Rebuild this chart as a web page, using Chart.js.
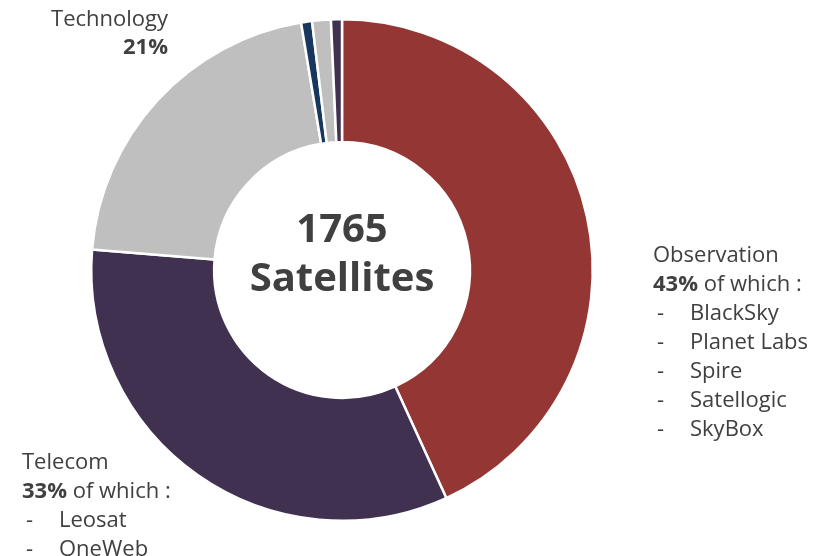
<!DOCTYPE html>
<html>
<head>
<meta charset="utf-8">
<script src="https://cdn.jsdelivr.net/npm/chart.js@4.4.1/dist/chart.umd.min.js"></script>
<style>
  html, body { margin: 0; padding: 0; background: #fff; }
  #wrap { width: 821px; height: 556px; position: relative; }
</style>
</head>
<body>
<div id="wrap"><canvas id="myChart"></canvas></div>
<script>
// satellite shares by mission type (percent)
const segments = ['Observation', 'Telecom', 'Technology', 'Other A', 'Other B', 'Other C'];
const shares = [43, 33, 21, 0.7, 1.2, 0.7];
const colors = ['#943634', '#403151', '#BFBFBF', '#17375E', '#BFBFBF', '#403151'];

const totalSats = '1765';
const centerWord = 'Satellites';

const observationOps = ['BlackSky', 'Planet Labs', 'Spire', 'Satellogic', 'SkyBox'];
const telecomOps = ['Leosat', 'OneWeb'];

const FONT = '"Open Sans", "Noto Sans", sans-serif';
const TEXT = '#404040';

// writes the center total and the side notes
const notes = {
    id: 'notes',
    afterDraw(chart) {
        const ctx = chart.ctx;
        const arc = chart.getDatasetMeta(0).data[0];
        ctx.save();
        ctx.fillStyle = TEXT;
        ctx.textBaseline = 'middle';

        // center
        ctx.textAlign = 'center';
        ctx.font = 'bold 40px ' + FONT;
        ctx.fillText(totalSats, arc.x, arc.y - 39);
        ctx.fillText(centerWord, arc.x, arc.y + 10);

        const lh = 29;
        ctx.font = '22px ' + FONT;

        // technology, top left
        ctx.textAlign = 'right';
        ctx.fillText('Technology', 168, 20);
        ctx.font = 'bold 22px ' + FONT;
        ctx.fillText(shares[2] + '%', 168, 48);

        // block with a bold share line and a dash list
        function block(x, y, title, pct, items) {
            ctx.textAlign = 'left';
            ctx.font = '22px ' + FONT;
            ctx.fillText(title, x, y);
            ctx.font = 'bold 22px ' + FONT;
            const p = pct + '%';
            ctx.fillText(p, x, y + lh);
            const w = ctx.measureText(p).width;
            ctx.font = '22px ' + FONT;
            ctx.fillText(' of which :', x + w, y + lh);
            items.forEach((it, i) => {
                const yy = y + lh * (i + 2);
                ctx.fillText('-', x + 4, yy);
                ctx.fillText(it, x + 37, yy);
            });
        }
        block(653, 256, 'Observation', shares[0], observationOps);
        block(22, 463, 'Telecom', shares[1], telecomOps);
        ctx.restore();
    }
};

const data = {
    labels: segments,
    datasets: [{
        data: shares,
        backgroundColor: colors,
        borderColor: '#ffffff',
        borderWidth: 2.5
    }]
};

const config = {
    type: 'doughnut',
    data,
    options: {
        responsive: false,
        animation: false,
        cutout: '51%',
        layout: { padding: { left: 90, right: 227, top: 18, bottom: 34 } },
        plugins: {
            legend: { display: false },
            tooltip: { enabled: false }
        }
    },
    plugins: [notes]
};

const cv = document.getElementById('myChart');
cv.width = 821;
cv.height = 556;
const myChart = new Chart(cv, config);
</script>
</body>
</html>
